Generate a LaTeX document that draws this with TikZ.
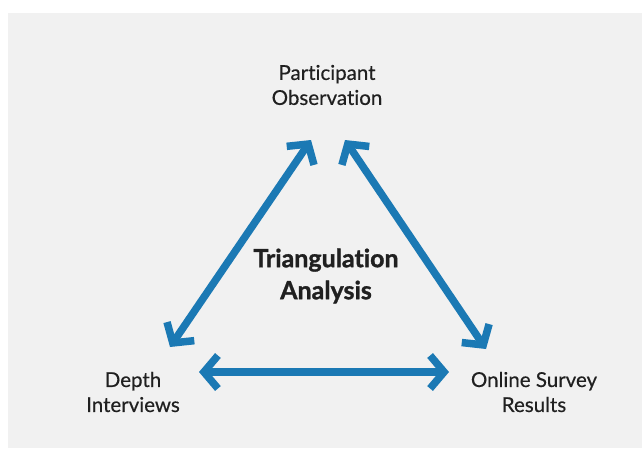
\documentclass[tikz,border=0pt]{standalone}
\usepackage{fontspec}
\setmainfont{Lato}[Ligatures={NoCommon}, UprightFeatures={FakeBold=0.4}]
\newfontfamily\titlefont{Lato}[Ligatures={NoCommon}, BoldFeatures={FakeBold=1.2}]
\usetikzlibrary{arrows.meta}
\definecolor{paper}{HTML}{F1F1F1}
\definecolor{arrowblue}{HTML}{1B79B4}
\definecolor{ink}{HTML}{202020}
\tikzset{
  label text/.style={font=\fontsize{20.5}{25}\selectfont, text=ink, align=center, inner sep=0pt},
  title text/.style={font=\titlefont\bfseries\fontsize{25}{32}\selectfont, text=ink, align=center, inner sep=0pt},
  link/.style={draw=arrowblue, line width=7.5pt,
    {Straight Barb[length=14pt,width=33pt,line width=7.5pt]}-{Straight Barb[length=14pt,width=33pt,line width=7.5pt]}}
}
\begin{document}
\begin{tikzpicture}[x=1pt,y=-1pt]
\useasboundingbox (0,0) rectangle (642,448);
\fill[white] (0,0) rectangle (642,448);
\fill[paper] (8,13) rectangle (642,448);
\node[label text] (po) at (327,85) {Participant\\Observation};
\node[title text] (ta) at (326,276) {Triangulation\\Analysis};
\node[label text] (di) at (133,392) {Depth\\Interviews};
\node[label text] (os) at (534,392) {Online Survey\\Results};
\coordinate (l1) at (170,347);
\coordinate (l2) at (311,140);
\coordinate (r1) at (345,140);
\coordinate (r2) at (486,349);
\coordinate (b1) at (199,372);
\coordinate (b2) at (449,372);
\draw[link] (l1) -- (l2);
\draw[link] (r1) -- (r2);
\draw[link] (b1) -- (b2);
\end{tikzpicture}
\end{document}
